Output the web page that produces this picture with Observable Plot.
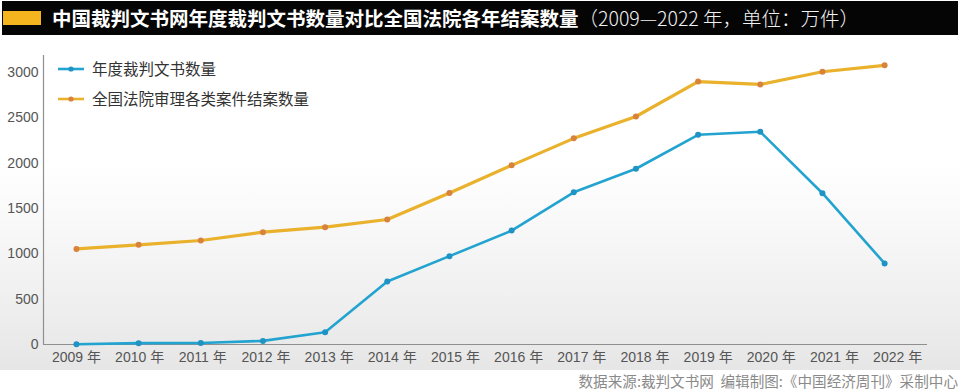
<!DOCTYPE html>
<html>
<head>
<meta charset="utf-8">
<script src="https://cdn.jsdelivr.net/npm/d3@7"></script>
<script src="https://cdn.jsdelivr.net/npm/@observablehq/plot@0.6"></script>
<style>
  html, body { margin: 0; padding: 0; background: #fff; }
  body { width: 960px; height: 392px; position: relative; overflow: hidden;
         font-family: "Liberation Sans", "Noto Sans CJK SC", sans-serif; }
  #title { position: absolute; left: 2px; top: 1px; width: 956px; height: 34px; background: #050505; }
  #title .block { position: absolute; left: 1px; top: 10px; width: 38px; height: 14px; background: #f4b51e; }
  #title .text { position: absolute; left: 50px; top: 0; line-height: 34px; color: #fff; font-size: 19.5px;
                 font-family: "Noto Sans CJK SC", sans-serif; white-space: nowrap; }
  #title .text b { font-weight: 700; }
  #title .text span { font-weight: 300; color: #f2f2f2; }
  #panel { position: absolute; left: 0; top: 38px; width: 960px; height: 332px;
           background: linear-gradient(to bottom, #ffffff 0%, #ffffff 38%, #f1f1f1 75%, #e6e6e6 100%); }
  #chart { position: absolute; left: 0; top: 0; }
  #legend { position: absolute; left: 58px; top: 20px; font-family: "Noto Sans CJK SC", sans-serif; }
  #legend .item { position: absolute; left: 0; height: 20px; white-space: nowrap; font-size: 15.5px; color: #333; line-height: 20px; }
  #legend svg { position: absolute; left: 0; top: 0; }
  #legend .lbl { position: absolute; left: 34px; top: 0; }
  #caption { position: absolute; right: 2px; top: 372px; font-size: 14.6px; color: #8a8a8a;
             font-family: "Noto Sans CJK SC", sans-serif; white-space: nowrap; line-height: 18px; }
</style>
</head>
<body>
<div id="title"><div class="block"></div><div class="text"><b>中国裁判文书网年度裁判文书数量对比全国法院各年结案数量</b><span>（2009—2022 年，单位：万件）</span></div></div>
<div id="panel">
  <div id="chart"></div>
  <div id="legend"></div>
</div>
<div id="caption">数据来源:裁判文书网&nbsp;&nbsp;编辑制图:《中国经济周刊》采制中心</div>
<script>
// ---- data ----
const years = [2009, 2010, 2011, 2012, 2013, 2014, 2015, 2016, 2017, 2018, 2019, 2020, 2021, 2022];
const judgments = [3, 15, 17, 40, 135, 695, 975, 1257, 1680, 1940, 2315, 2348, 1670, 895];
const casesClosed = [1054.5, 1099.9, 1147.9, 1239.7, 1294.7, 1379.7, 1671.4, 1977.2, 2275.4, 2516.7, 2902.2, 2870.5, 3010.4, 3081];
const seriesNames = ["年度裁判文书数量", "全国法院审理各类案件结案数量"];
const yTicks = [0, 500, 1000, 1500, 2000, 2500, 3000];
const xLabels = years.map(y => `${y} 年`);

const lineColors = ["#23a3cf", "#e9b12c"];
const dotColors = ["#1e93c4", "#d9823c"];

const rows = [];
years.forEach((yr, i) => {
  rows.push({year: yr, value: judgments[i], s: 0});
  rows.push({year: yr, value: casesClosed[i], s: 1});
});
const s0 = rows.filter(d => d.s === 0);
const s1 = rows.filter(d => d.s === 1);

const xDomain = [2008.47, 2022.69];
const yDomain = [0, 3190];
// label spacing in the original is slightly wider than point spacing
const labelSpread = 0.0161;

const chart = Plot.plot({
  width: 960,
  height: 332,
  marginLeft: 43,
  marginRight: 33,
  marginTop: 17,
  marginBottom: 26,
  style: {background: "transparent", fontFamily: "'Liberation Sans', 'Noto Sans CJK SC', sans-serif", fontSize: "14px", color: "#555"},
  x: {domain: xDomain, axis: null, label: null},
  y: {domain: yDomain, axis: null, label: null},
  marks: [
    Plot.ruleY([0], {stroke: "#8f8f8f", strokeWidth: 1.2}),
    Plot.ruleX([xDomain[0]], {stroke: "#8f8f8f", strokeWidth: 1.2}),
    Plot.axisY({ticks: yTicks, tickSize: 0, tickPadding: 5, fontSize: 14, fill: "#555", label: null, tickFormat: d => String(d)}),
    Plot.text(years, {
      x: d => d + (d - 2009) * labelSpread,
      y: 0, dy: 13,
      text: (d, i) => xLabels[i],
      fontSize: 14, fill: "#555"
    }),
    Plot.line(s1, {x: "year", y: "value", stroke: lineColors[1], strokeWidth: 3.2}),
    Plot.line(s0, {x: "year", y: "value", stroke: lineColors[0], strokeWidth: 2.6}),
    Plot.dot(s1, {x: "year", y: "value", r: 3, fill: dotColors[1], stroke: "none"}),
    Plot.dot(s0, {x: "year", y: "value", r: 3, fill: dotColors[0], stroke: "none"})
  ]
});
document.getElementById("chart").appendChild(chart);

// legend
const legend = document.getElementById("legend");
seriesNames.forEach((name, i) => {
  const item = document.createElement("div");
  item.className = "item";
  item.style.top = (i * 30) + "px";
  item.innerHTML = `<svg width="28" height="20"><line x1="0" y1="11" x2="26" y2="11" stroke="${lineColors[i]}" stroke-width="2.6"/><circle cx="13" cy="11" r="2.6" fill="${dotColors[i]}"/></svg><span class="lbl">${name}</span>`;
  legend.appendChild(item);
});
</script>
</body>
</html>
